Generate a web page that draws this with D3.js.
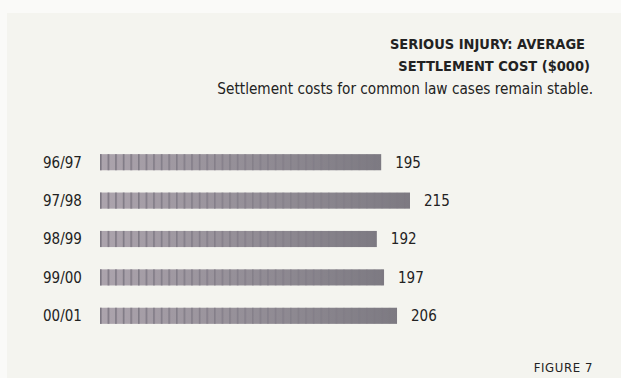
<!DOCTYPE html>
<html>
<head>
<meta charset="utf-8">
<script src="https://cdn.jsdelivr.net/npm/d3@7"></script>
<style>
  html, body { margin: 0; padding: 0; background: #fafaf8; }
  svg { display: block; }
  text { font-family: "DejaVu Sans Condensed", "DejaVu Sans", sans-serif; fill: #222; }
</style>
</head>
<body>
<div id="chart"></div>
<script>
const years = ["96/97", "97/98", "98/99", "99/00", "00/01"];
const costs = [195, 215, 192, 197, 206];
const titleLines = ["SERIOUS INJURY: AVERAGE", "SETTLEMENT COST ($000)"];
const subtitle = "Settlement costs for common law cases remain stable.";
const figureLabel = "FIGURE 7";

const width = 621;
const height = 378;

const svg = d3
  .select("#chart")
  .append("svg")
  .attr("width", width)
  .attr("height", height);

const defs = svg.append("defs");

const grad = defs
  .append("linearGradient")
  .attr("id", "barGrad")
  .attr("gradientUnits", "objectBoundingBox");
grad.append("stop").attr("offset", "0%").attr("stop-color", "#aca4ad");
grad.append("stop").attr("offset", "100%").attr("stop-color", "#7d7a82");

const fade = defs
  .append("linearGradient")
  .attr("id", "fadeGrad")
  .attr("gradientUnits", "objectBoundingBox");
fade.append("stop").attr("offset", "0%").attr("stop-color", "#fff");
fade.append("stop").attr("offset", "100%").attr("stop-color", "#fff").attr("stop-opacity", 0.15);

const stripes = defs
  .append("pattern")
  .attr("id", "stripes")
  .attr("patternUnits", "userSpaceOnUse")
  .attr("width", 7.6)
  .attr("height", 20)
  .attr("x", 100);
stripes
  .append("rect")
  .attr("width", 1.6)
  .attr("height", 20)
  .attr("fill", "#7b7681");

// panel
svg
  .append("rect")
  .attr("x", 7)
  .attr("y", 13)
  .attr("width", width - 7)
  .attr("height", height - 13)
  .attr("fill", "#f4f4ef");

const x = d3.scaleLinear().domain([0, 215]).range([100, 410]);
const y = d3.scaleBand().domain(years).range([143, 335]).paddingInner(0.58).paddingOuter(0.29);

const rows = svg
  .selectAll(".row")
  .data(years)
  .enter()
  .append("g")
  .attr("class", "row");

rows
  .append("rect")
  .attr("x", x(0))
  .attr("y", (d) => y(d))
  .attr("width", (_, i) => x(costs[i]) - x(0))
  .attr("height", y.bandwidth())
  .attr("fill", "url(#barGrad)");

const mask = defs.append("mask").attr("id", "fadeMask").attr("maskUnits", "userSpaceOnUse")
  .attr("x", 0).attr("y", 0).attr("width", width).attr("height", height);
mask
  .append("rect")
  .attr("x", x(0))
  .attr("y", 0)
  .attr("width", x(215) - x(0))
  .attr("height", height)
  .attr("fill", "url(#fadeGrad)");

rows
  .append("rect")
  .attr("x", x(0))
  .attr("y", (d) => y(d))
  .attr("width", (_, i) => x(costs[i]) - x(0))
  .attr("height", y.bandwidth())
  .attr("fill", "url(#stripes)")
  .attr("mask", "url(#fadeMask)");

rows
  .append("text")
  .attr("x", 43)
  .attr("y", (d) => y(d) + y.bandwidth() / 2)
  .attr("dy", "0.36em")
  .attr("font-size", 15)
  .text((d) => d);

rows
  .append("text")
  .attr("x", (_, i) => x(costs[i]) + 14)
  .attr("y", (d) => y(d) + y.bandwidth() / 2)
  .attr("dy", "0.36em")
  .attr("font-size", 15)
  .text((_, i) => costs[i]);

svg
  .selectAll(".title")
  .data(titleLines)
  .enter()
  .append("text")
  .attr("class", "title")
  .attr("x", (_, i) => (i === 0 ? 585 : 590))
  .attr("y", (_, i) => 49 + i * 22)
  .attr("text-anchor", "end")
  .attr("font-size", 14.5)
  .attr("font-weight", "bold")
  .text((d) => d);

svg
  .append("text")
  .attr("x", 593)
  .attr("y", 94)
  .attr("text-anchor", "end")
  .attr("font-size", 15.2)
  .text(subtitle);

svg
  .append("text")
  .attr("x", 593)
  .attr("y", 372)
  .attr("text-anchor", "end")
  .attr("font-size", 13)
  .attr("letter-spacing", 0.6)
  .text(figureLabel);
</script>
</body>
</html>
